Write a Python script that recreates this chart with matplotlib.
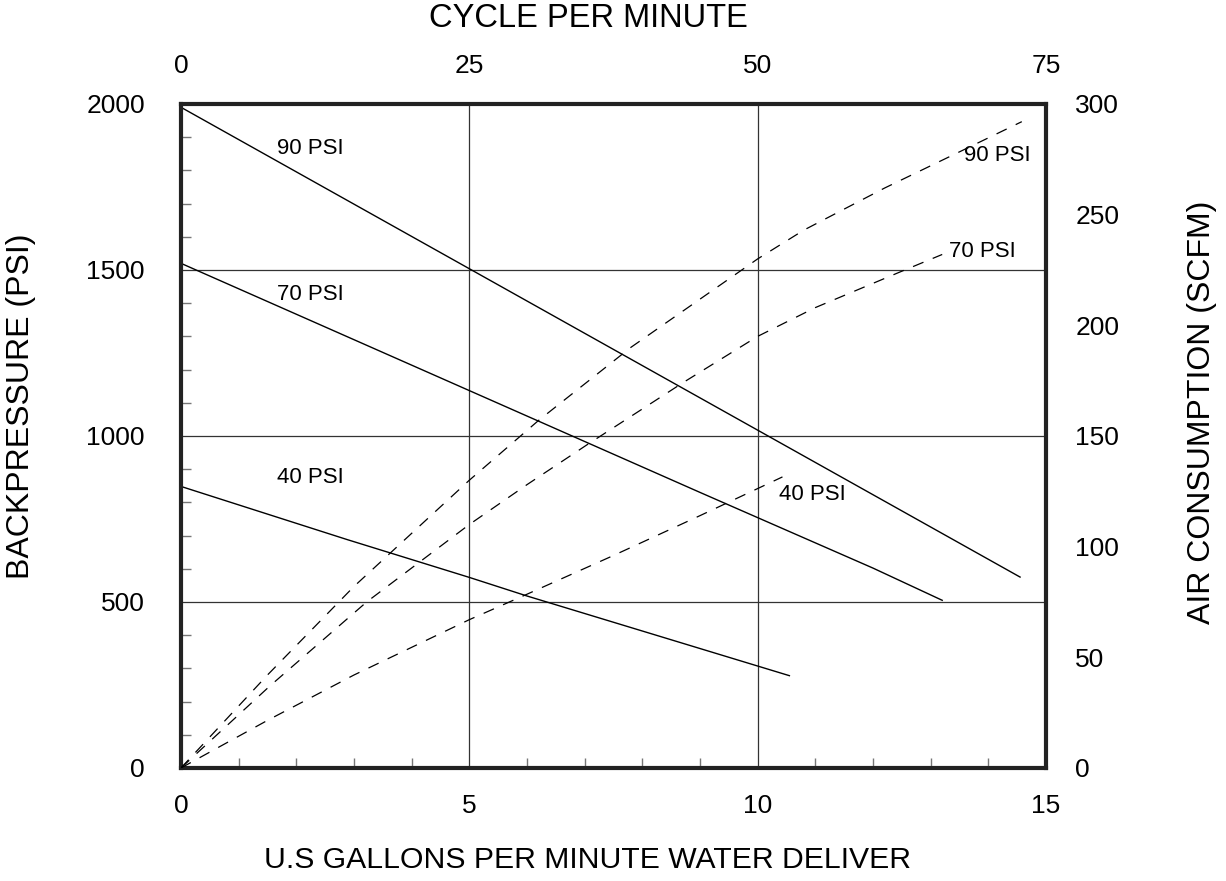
import matplotlib
matplotlib.use("Agg")
import matplotlib.pyplot as plt

plt.rcParams['font.family'] = ['Liberation Sans', 'DejaVu Sans']

# backpressure (PSI) vs. U.S. gallons per minute, solid lines
bp_90_gpm = [0.0, 14.55]
bp_90_psi = [1990, 575]
bp_70_gpm = [0.0, 9.0, 12.0, 13.2]
bp_70_psi = [1520, 830, 602, 505]
bp_40_gpm = [0.0, 2.88, 5.0, 6.0, 10.55]
bp_40_psi = [848, 688, 574, 518, 278]

# air consumption (SCFM) vs. gpm, dashed lines
air_90_gpm = [0.0, 1.5, 3.0, 5.0, 6.2, 7.8, 10.0, 10.8, 12.2, 13.55, 14.58]
air_90_scfm = [0, 42, 82, 130, 157, 190, 230, 243, 262, 279, 292]
air_70_gpm = [0.0, 1.54, 3.22, 5.0, 6.0, 7.04, 8.7, 10.0, 11.0, 12.46, 13.2]
air_70_scfm = [0, 37, 75, 110, 128, 146, 174, 195, 208, 224, 232]
air_40_gpm = [0.0, 1.5, 3.0, 5.0, 6.0, 7.5, 9.0, 10.43]
air_40_scfm = [0, 21.5, 42, 67, 78.5, 96, 114, 131.5]

x_ticks = [0, 5, 10, 15]
y_ticks = [0, 500, 1000, 1500, 2000]
y2_ticks = [0, 50, 100, 150, 200, 250, 300]
cpm_ticks = [0, 25, 50, 75]
x_minor = [1, 2, 3, 4, 6, 7, 8, 9, 11, 12, 13, 14]
y_minor = [v for v in range(100, 2000, 100) if v % 500]

fig = plt.figure(figsize=(12.26, 8.81), dpi=100)
ax = fig.add_axes([0.1476, 0.1283, 0.7056, 0.7537])

ax.set_xlim(0, 15)
ax.set_ylim(0, 2000)
ax.set_xticks(x_ticks)
ax.set_yticks(y_ticks)
ax.set_xticks(x_minor, minor=True)
ax.set_yticks(y_minor, minor=True)
ax.tick_params(axis='both', which='major', length=0, labelsize=19)
ax.tick_params(axis='x', which='major', pad=19)
ax.tick_params(axis='y', which='major', pad=26)
ax.tick_params(which='minor', direction='in', length=7, width=1, color='#777777')
ax.grid(True, which='major', color='#333333', lw=0.9)
for s in ax.spines.values():
    s.set_linewidth(3)
    s.set_color('#222222')

line_kw = dict(color='black', lw=1.0)
ax.plot(bp_90_gpm, bp_90_psi, **line_kw)
ax.plot(bp_70_gpm, bp_70_psi, **line_kw)
ax.plot(bp_40_gpm, bp_40_psi, **line_kw)

ax.set_xlabel('U.S GALLONS PER MINUTE WATER DELIVER', fontsize=21.7, labelpad=20, x=0.4705)
ax.set_ylabel('BACKPRESSURE (PSI)', fontsize=23, labelpad=36, y=0.544)

lbl_kw = dict(fontsize=16, ha='center', va='center')
ax.text(2.25, 1865, '90 PSI', **lbl_kw)
ax.text(2.25, 1425, '70 PSI', **lbl_kw)
ax.text(2.25, 875, '40 PSI', **lbl_kw)
ax.text(14.15, 1845, '90 PSI', **lbl_kw)
ax.text(13.9, 1555, '70 PSI', **lbl_kw)
ax.text(10.95, 825, '40 PSI', **lbl_kw)

ax2 = ax.twinx()
ax2.set_ylim(0, 300)
ax2.set_yticks(y2_ticks)
ax2.tick_params(axis='y', length=0, labelsize=19, pad=21)
ax2.set_ylabel('AIR CONSUMPTION (SCFM)', fontsize=23, labelpad=49, y=0.536)
for s in ax2.spines.values():
    s.set_visible(False)

dash_kw = dict(color='black', lw=0.9, dashes=(9, 8))
ax2.plot(air_90_gpm, air_90_scfm, **dash_kw)
ax2.plot(air_70_gpm, air_70_scfm, **dash_kw)
ax2.plot(air_40_gpm, air_40_scfm, **dash_kw)

top = ax.secondary_xaxis('top', functions=(lambda g: g * 5, lambda c: c / 5))
top.set_xticks(cpm_ticks)
top.tick_params(length=0, labelsize=19, pad=19)
top.set_xlabel('CYCLE PER MINUTE', fontsize=23.5, labelpad=19, x=0.4705)
top.spines['top'].set_visible(False)

fig.savefig('out.png', dpi=100)
